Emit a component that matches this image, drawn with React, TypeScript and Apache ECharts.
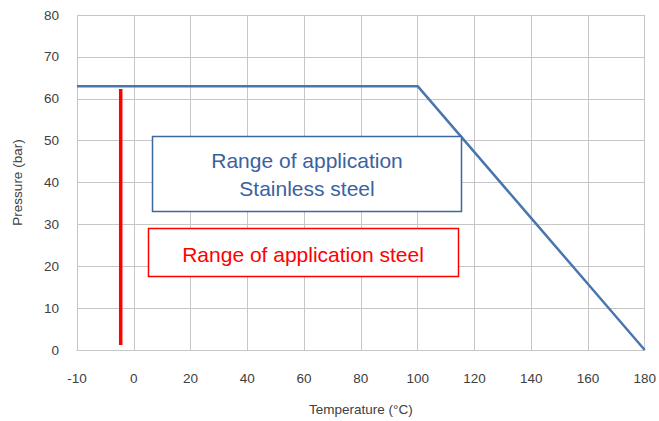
import React, { useEffect, useRef } from "react";
import * as echarts from "echarts";

const temperatures = ["-10", "0", "20", "40", "60", "80", "100", "120", "140", "160", "180"];
const stainlessPressure = [63, 63, 63, 63, 63, 63, 63, 47.25, 31.5, 15.75, 0];
// steel range marker, x expressed in category-index units
const steelMarker = [
  [0.77, 62.3],
  [0.77, 1.2],
];
const yTicks = { min: 0, max: 80, interval: 10 };

export default function App() {
  const ref = useRef<HTMLDivElement>(null);
  useEffect(() => {
    if (!ref.current) return;
    const chart = echarts.init(ref.current, null, { renderer: "svg" });
    const labelFont = "'Liberation Sans', Arial, sans-serif";
    const narrow = "'Liberation Sans Narrow', 'Liberation Sans', Arial, sans-serif";
    chart.setOption({
      animation: false,
      backgroundColor: "#ffffff",
      grid: { left: 77, right: 13, top: 15, bottom: 71, containLabel: false },
      xAxis: [
        {
          type: "category",
          data: temperatures,
          boundaryGap: false,
          name: "Temperature (°C)",
          nameLocation: "middle",
          nameGap: 52,
          nameTextStyle: { color: "#404040", fontSize: 13.5, fontFamily: labelFont },
          axisLine: { show: true, lineStyle: { color: "#c6c6c6", width: 1 } },
          axisTick: { show: false },
          axisLabel: { color: "#404040", fontSize: 13.5, margin: 21, fontFamily: labelFont },
          splitLine: { show: true, lineStyle: { color: "#c6c6c6", width: 1 } },
        },
        {
          type: "value",
          min: 0,
          max: 10,
          show: false,
          position: "bottom",
        },
      ],
      yAxis: {
        type: "value",
        min: yTicks.min,
        max: yTicks.max,
        interval: yTicks.interval,
        name: "Pressure (bar)",
        nameLocation: "middle",
        nameGap: 53,
        nameRotate: 90,
        nameTextStyle: { color: "#404040", fontSize: 13.5, fontFamily: labelFont },
        axisLine: { show: false },
        axisTick: { show: false },
        axisLabel: { color: "#404040", fontSize: 13.5, margin: 18, fontFamily: labelFont },
        splitLine: { show: true, lineStyle: { color: "#c6c6c6", width: 1 } },
      },
      series: [
        {
          type: "line",
          xAxisIndex: 0,
          data: stainlessPressure,
          symbol: "none",
          lineStyle: { color: "#4a76b0", width: 2.5 },
          z: 3,
        },
        {
          type: "line",
          xAxisIndex: 1,
          data: steelMarker,
          symbol: "none",
          lineStyle: { color: "#ff0000", width: 3.5 },
          z: 4,
        },
      ],
      graphic: [
        {
          type: "rect",
          shape: { x: 152.5, y: 136.5, width: 309, height: 75 },
          style: { fill: "#ffffff", stroke: "#3e66a0", lineWidth: 1.5 },
          z: 10,
        },
        {
          type: "text",
          x: 307,
          y: 174,
          style: {
            text: "Range of application\nStainless steel",
            fill: "#3b62a0",
            font: `21px ${narrow}`,
            align: "center",
            verticalAlign: "middle",
            lineHeight: 28,
          },
          z: 11,
        },
        {
          type: "rect",
          shape: { x: 148.5, y: 228.5, width: 310, height: 48 },
          style: { fill: "#ffffff", stroke: "#ff0000", lineWidth: 1.5 },
          z: 10,
        },
        {
          type: "text",
          x: 303,
          y: 254,
          style: {
            text: "Range of application steel",
            fill: "#ff0000",
            font: `21px ${narrow}`,
            align: "center",
            verticalAlign: "middle",
          },
          z: 11,
        },
      ],
    });
    return () => chart.dispose();
  }, []);
  return <div ref={ref} style={{ width: 659, height: 421, position: "absolute", left: 0, top: 0 }} />;
}
